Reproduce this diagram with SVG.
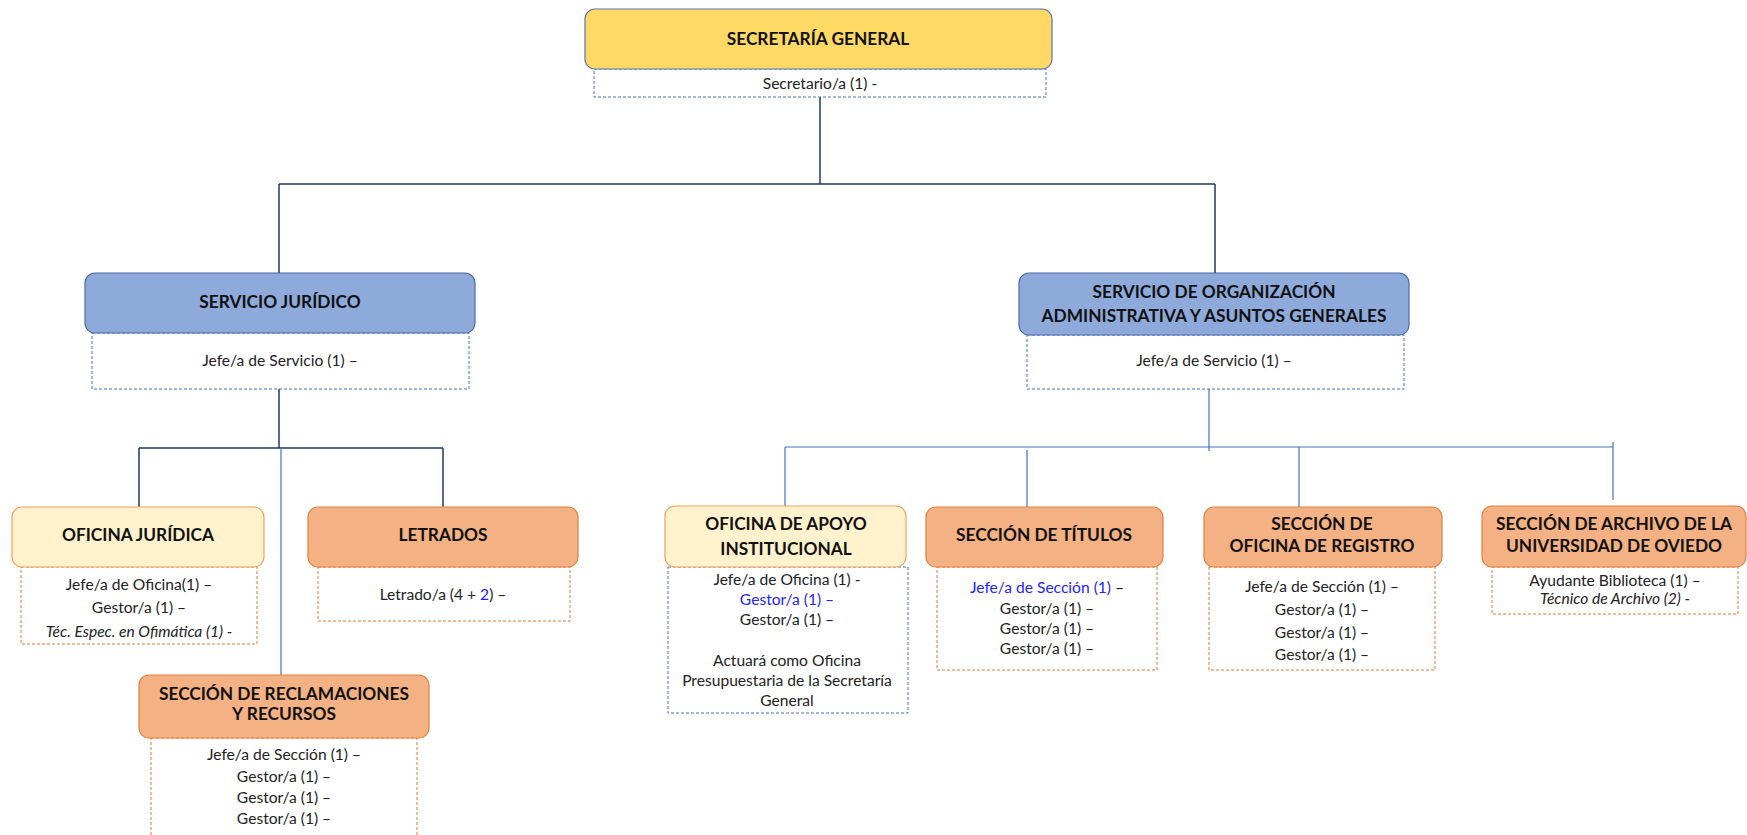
<svg xmlns="http://www.w3.org/2000/svg" width="1747" height="835" viewBox="0 0 1747 835">
  <style>
    .t { font-family: Lato, "Open Sans", "Liberation Sans", sans-serif; font-weight: 700; font-size: 17.3px; fill: #111; text-anchor: middle; }
    .s { font-family: Lato, "Open Sans", "Liberation Sans", sans-serif; font-size: 15.6px; fill: #222; text-anchor: middle; }
    .i { font-style: italic; }
    .b { fill: #2424ff; }
    .yel { fill: #ffd966; stroke: #5b76aa; stroke-width: 1.2; }
    .blu { fill: #8eaadb; stroke: #4a69a8; stroke-width: 1.2; }
    .cre { fill: #fff2cc; stroke: #f0a060; stroke-width: 1.2; }
    .ora { fill: #f4b183; stroke: #e0803e; stroke-width: 1.2; }
    .db { fill: #fff; stroke: #4472c4; stroke-width: 1; stroke-dasharray: 3 2; }
    .do { fill: #fff; stroke: #e07a35; stroke-width: 1; stroke-dasharray: 3 2; }
    .navy { stroke: #1f3864; stroke-width: 1.5; fill: none; }
    .lb { stroke: #4472c4; stroke-width: 1.2; fill: none; }
  </style>

  <g id="connectors">
    <path class="navy" d="M820 97 V184 M279 184 H1215 M279 184 V273 M1215 184 V273"/>
    <path class="navy" d="M279 389 V448 M139 448 H443 M139 448 V507 M443 448 V507"/>
    <path class="lb" d="M281 448 V675"/>
    <path class="lb" d="M1209 389 V451 M785 447 H1613 M785 447 V506 M1027 450 V507 M1299 447 V507 M1613 442 V500"/>
  </g>

  <g id="secretaria-general">
    <rect class="db" x="594" y="69" width="452" height="28"/>
    <rect class="yel" x="585" y="9" width="467" height="60" rx="10"/>
    <text class="t" x="818" y="45">SECRETARÍA GENERAL</text>
    <text class="s" x="820" y="89">Secretario/a (1) -</text>
  </g>

  <g id="servicio-juridico">
    <rect class="db" x="92" y="333" width="377" height="56"/>
    <rect class="blu" x="85" y="273" width="390" height="60" rx="10"/>
    <text class="t" x="280" y="308">SERVICIO JURÍDICO</text>
    <text class="s" x="280" y="366">Jefe/a de Servicio (1) –</text>
  </g>

  <g id="servicio-organizacion">
    <rect class="db" x="1027" y="335" width="377" height="54"/>
    <rect class="blu" x="1019" y="273" width="390" height="62" rx="10"/>
    <text class="t" x="1214" y="298">SERVICIO DE ORGANIZACIÓN</text>
    <text class="t" x="1214" y="322">ADMINISTRATIVA Y ASUNTOS GENERALES</text>
    <text class="s" x="1214" y="366">Jefe/a de Servicio (1) –</text>
  </g>

  <g id="oficina-juridica">
    <rect class="do" x="21" y="567" width="236" height="77"/>
    <rect class="cre" x="12" y="507" width="252" height="60" rx="10"/>
    <text class="t" x="138" y="541">OFICINA JURÍDICA</text>
    <text class="s" x="139" y="590">Jefe/a de Oficina(1) –</text>
    <text class="s" x="139" y="613">Gestor/a (1) –</text>
    <text class="s i" x="139" y="637">Téc.  Espec. en Ofimática (1) -</text>
  </g>

  <g id="letrados">
    <rect class="do" x="318" y="567" width="252" height="54"/>
    <rect class="ora" x="308" y="507" width="270" height="60" rx="10"/>
    <text class="t" x="443" y="541">LETRADOS</text>
    <text class="s" x="443" y="600">Letrado/a (4 + <tspan class="b">2</tspan>) –</text>
  </g>

  <g id="seccion-reclamaciones">
    <rect class="do" x="151" y="738" width="266" height="110"/>
    <rect class="ora" x="139" y="675" width="290" height="63" rx="10"/>
    <text class="t" x="284" y="700">SECCIÓN DE RECLAMACIONES</text>
    <text class="t" x="284" y="720">Y RECURSOS</text>
    <text class="s" x="284" y="760">Jefe/a de Sección (1) –</text>
    <text class="s" x="284" y="782">Gestor/a (1) –</text>
    <text class="s" x="284" y="803">Gestor/a (1) –</text>
    <text class="s" x="284" y="824">Gestor/a (1) –</text>
  </g>

  <g id="oficina-apoyo">
    <rect class="db" x="668" y="567" width="240" height="146"/>
    <rect class="cre" x="665" y="506" width="241" height="61" rx="10"/>
    <text class="t" x="786" y="530">OFICINA DE APOYO</text>
    <text class="t" x="786" y="555">INSTITUCIONAL</text>
    <text class="s" x="787" y="585">Jefe/a de Oficina (1) -</text>
    <text class="s b" x="787" y="605">Gestor/a (1) –</text>
    <text class="s" x="787" y="625">Gestor/a (1) –</text>
    <text class="s" x="787" y="666">Actuará como Oficina</text>
    <text class="s" x="787" y="686">Presupuestaria de la Secretaría</text>
    <text class="s" x="787" y="706">General</text>
  </g>

  <g id="seccion-titulos">
    <rect class="do" x="937" y="567" width="220" height="103"/>
    <rect class="ora" x="926" y="507" width="237" height="60" rx="10"/>
    <text class="t" x="1044" y="541">SECCIÓN DE TÍTULOS</text>
    <text class="s b" x="1047" y="593">Jefe/a de Sección (1) <tspan fill="#111">–</tspan></text>
    <text class="s" x="1047" y="614">Gestor/a (1) –</text>
    <text class="s" x="1047" y="634">Gestor/a (1) –</text>
    <text class="s" x="1047" y="654">Gestor/a (1) –</text>
  </g>

  <g id="seccion-registro">
    <rect class="do" x="1209" y="567" width="226" height="103"/>
    <rect class="ora" x="1204" y="507" width="238" height="60" rx="10"/>
    <text class="t" x="1322" y="530">SECCIÓN DE</text>
    <text class="t" x="1322" y="552">OFICINA DE REGISTRO</text>
    <text class="s" x="1322" y="592">Jefe/a de Sección (1) –</text>
    <text class="s" x="1322" y="615">Gestor/a (1) –</text>
    <text class="s" x="1322" y="638">Gestor/a (1) –</text>
    <text class="s" x="1322" y="660">Gestor/a (1) –</text>
  </g>

  <g id="seccion-archivo">
    <rect class="do" x="1492" y="567" width="246" height="47"/>
    <rect class="ora" x="1482" y="506" width="264" height="61" rx="10"/>
    <text class="t" x="1614" y="530">SECCIÓN DE ARCHIVO DE LA</text>
    <text class="t" x="1614" y="552">UNIVERSIDAD DE OVIEDO</text>
    <text class="s" x="1615" y="586">Ayudante Biblioteca (1) –</text>
    <text class="s i" x="1615" y="604">Técnico de Archivo (2) -</text>
  </g>
</svg>
